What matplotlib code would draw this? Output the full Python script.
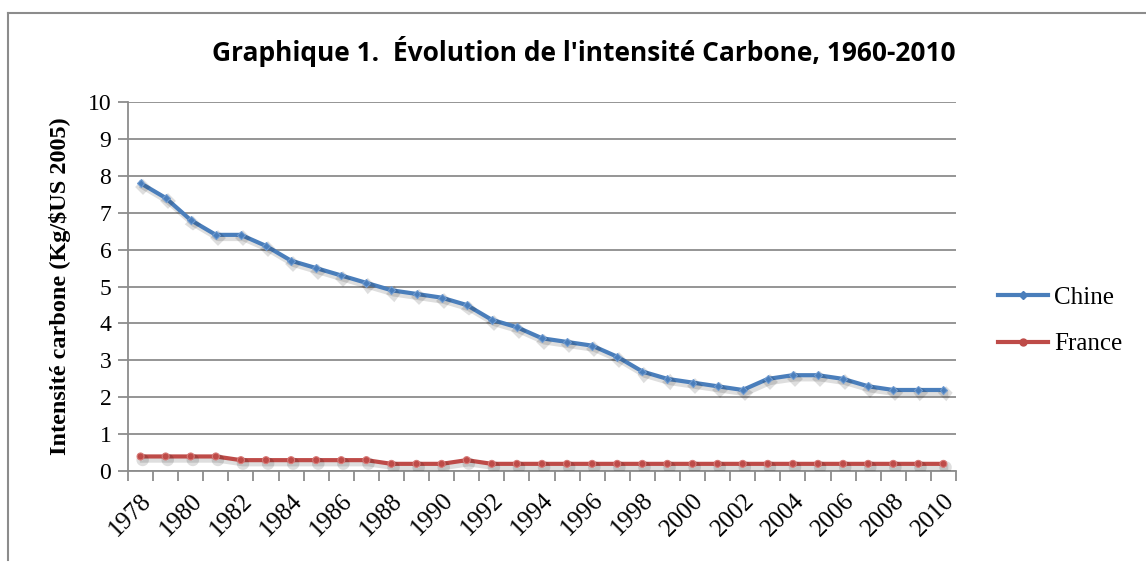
import numpy as np
import matplotlib.pyplot as plt
from matplotlib import patheffects as pe
from matplotlib.lines import Line2D

# Data
years = list(range(1978, 2011))
chine = [7.8, 7.4, 6.8, 6.4, 6.4, 6.1, 5.7, 5.5, 5.3, 5.1,
         4.9, 4.8, 4.7, 4.5, 4.1, 3.9, 3.6, 3.5, 3.4, 3.1,
         2.7, 2.5, 2.4, 2.3, 2.2, 2.5, 2.6, 2.6, 2.5, 2.3,
         2.2, 2.2, 2.2]
france = [0.4, 0.4, 0.4, 0.4, 0.3, 0.3, 0.3, 0.3, 0.3, 0.3,
          0.2, 0.2, 0.2, 0.3, 0.2, 0.2, 0.2, 0.2, 0.2, 0.2,
          0.2, 0.2, 0.2, 0.2, 0.2, 0.2, 0.2, 0.2, 0.2, 0.2,
          0.2, 0.2, 0.2]
series_names = ["Chine", "France"]
colors = ["#4A7EBB", "#BE4B48"]

serif = ["Liberation Serif", "DejaVu Serif"]

fig = plt.figure(figsize=(11.46, 5.63), dpi=100)
ax = fig.add_axes([0.1117, 0.163, 0.7225, 0.656])

# outer chart frame
fig.add_artist(Line2D([8/1146, 1.0], [1 - 12.5/563] * 2, color="#8c8c8c", lw=1.5, transform=fig.transFigure))
fig.add_artist(Line2D([8/1146] * 2, [1 - 12.5/563, 3/563], color="#8c8c8c", lw=1.5, transform=fig.transFigure))

x = np.arange(len(years))
shadow = [pe.SimpleLineShadow(offset=(1.5, -2.5), alpha=0.13, shadow_color="black", linewidth=4), pe.Normal()]
ax.plot(x, chine, color=colors[0], lw=3, marker="D", ms=4, mfc=colors[0], mec="#6f9bd1", mew=0.8,
        path_effects=shadow, zorder=3)
ax.plot(x, france, color=colors[1], lw=3, marker="o", ms=5, mfc=colors[1], mec="#d77a77", mew=0.8,
        path_effects=shadow, zorder=3)

ax.set_xlim(-0.5, len(years) - 0.5)
ax.set_ylim(0, 10)
ax.set_yticks(range(0, 11))
ax.yaxis.grid(True, color="#8c8c8c", lw=1.3)
ax.set_axisbelow(True)

for s in ["top", "right"]:
    ax.spines[s].set_visible(False)
for s in ["left", "bottom"]:
    ax.spines[s].set_color("#8c8c8c")
    ax.spines[s].set_linewidth(1.3)

ax.tick_params(axis="y", length=7, width=1.3, color="#8c8c8c", labelsize=17, pad=5)
for lab in ax.get_yticklabels():
    lab.set_family(serif)

# tick marks between categories, labels every two years
ax.set_xticks(np.arange(-0.5, len(years)), minor=False)
ax.set_xticklabels([])
ax.tick_params(axis="x", which="major", length=7, width=1.3, color="#8c8c8c")
ax.set_xticks(x[::2], minor=True)
ax.set_xticklabels([str(y) for y in years[::2]], minor=True, rotation=45, ha="right",
                   rotation_mode="anchor", fontsize=18, family=serif)
ax.tick_params(axis="x", which="minor", length=0, pad=13)

ax.set_ylabel("Intensité carbone (Kg/$US 2005)", fontsize=17.5, fontweight="bold", family=serif, labelpad=12)

fig.text(0.509, 0.908, "Graphique 1.  Évolution de l'intensité Carbone, 1960-2010",
         ha="center", va="center", fontsize=19, fontweight="bold", family=["Open Sans", "DejaVu Sans"])

handles = [Line2D([], [], color=colors[0], lw=3, marker="D", ms=4),
           Line2D([], [], color=colors[1], lw=3, marker="o", ms=5)]
fig.legend(handles, series_names, loc="center left", bbox_to_anchor=(0.851, 0.43),
           frameon=False, prop={"family": serif, "size": 18}, handlelength=2.0,
           handletextpad=0.25, labelspacing=0.95)

fig.savefig("out.png", dpi=100)
